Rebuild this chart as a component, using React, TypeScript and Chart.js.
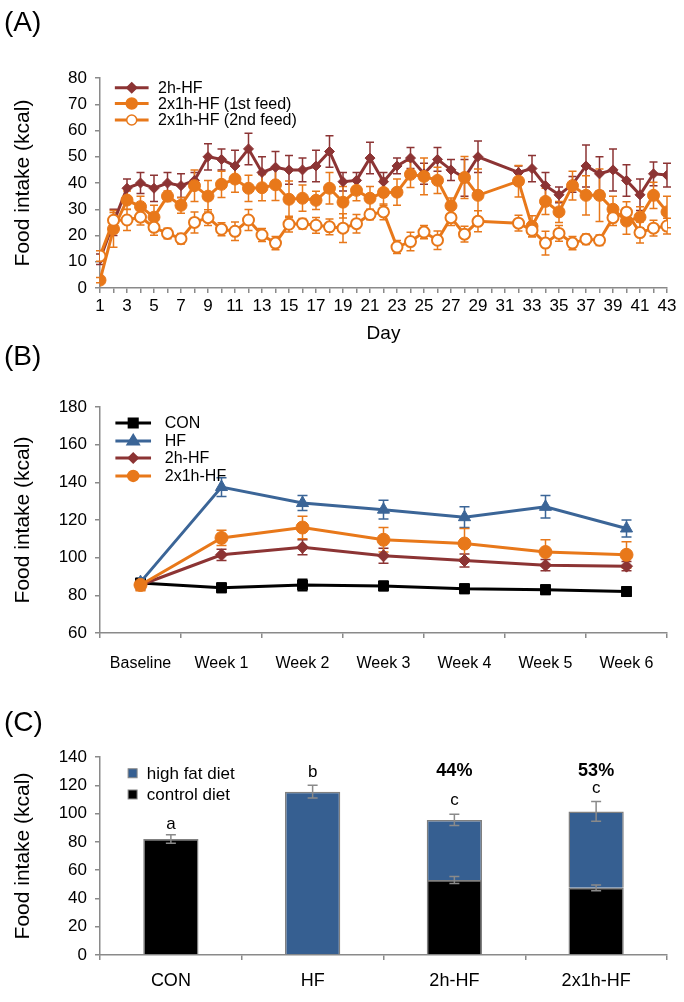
import React, { useEffect, useRef } from "react";
import { Chart, registerables } from "chart.js";

Chart.register(...registerables);

const FONT = "'Liberation Sans', Arial, Helvetica, sans-serif";
const AXIS_GREY = "#8a8a8a";
const DARK_RED = "#8c3434";
const ORANGE = "#e8781a";
const BLUE = "#3b6597";
const BAR_BLUE = "#365f91";

// ---------- Panel A data ----------
const DAYS = [1, 2, 3, 4, 5, 6, 7, 8, 9, 10, 11, 12, 13, 14, 15, 16, 17, 18, 19, 20, 21, 22, 23, 24, 25, 26, 27, 28, 29, 32, 33, 34, 35, 36, 37, 38, 39, 40, 41, 42, 43];
const HF_2H = [11, 25, 38, 40, 38, 40, 39, 41, 50, 49, 46.5, 53, 44, 46, 45, 45, 46.5, 52, 40.5, 41, 49.5, 40.5, 46.5, 49.5, 43.5, 49, 45, 42, 50, 44, 45.5, 39, 35.5, 39.5, 46.5, 43.5, 45, 41, 35.5, 43.5, 43];
const HF_2H_ERR = [2, 5, 3.5, 4, 5, 4, 4.5, 3, 5, 4, 6, 6, 6, 6, 5.5, 4.5, 6, 6, 3.5, 3, 6, 3.5, 3, 4, 4, 4.5, 4, 7, 6, 2.5, 5, 5, 3, 3, 8, 6.5, 8, 6, 6, 4.5, 4.5];
const FEED1 = [3, 22.5, 33.5, 31, 27, 35, 31.5, 39, 35, 39.5, 41.5, 38, 38.2, 39.3, 33.8, 34.2, 33.4, 38, 32.7, 37.2, 34.2, 36.4, 36.5, 43.3, 42.5, 41, 31.3, 42.1, 35.3, 40.7, 23.5, 33, 29, 39, 35.3, 35.3, 30, 25.5, 27, 35.3, 29];
const FEED1_ERR = [1, 7, 3.5, 4, 4.5, 2, 3, 6, 6, 5, 5, 5, 5, 6, 7, 5, 3.5, 6, 6, 4, 4.5, 5, 5, 5, 7, 5, 3, 8, 10, 6, 4, 5, 4, 5.5, 7.5, 10, 5, 5, 4, 5, 6];
const FEED2 = [12.2, 25.8, 25.9, 27, 23.1, 20.8, 18.8, 25, 26.8, 22.4, 21.6, 25.9, 20.2, 17.1, 24.3, 24.5, 23.9, 23.3, 22.8, 24.5, 28, 29, 15.6, 17.7, 21.3, 18.2, 26.8, 20.5, 25.4, 24.7, 22, 17.1, 20.8, 17.1, 18.6, 18.2, 26.8, 28.9, 21.1, 22.8, 23.6];
const FEED2_ERR = [2, 3, 4, 3, 3, 2, 2, 4, 3, 2.5, 3.5, 4, 2.5, 2.5, 3, 2, 3, 3, 5.5, 3.5, 2, 3, 2.5, 3.5, 2.5, 3.5, 3, 3, 4, 3, 2.5, 4.5, 3, 2.5, 2, 2, 3, 4, 4, 3, 3];

// ---------- Panel B data ----------
const WEEKS = ["Baseline", "Week 1", "Week 2", "Week 3", "Week 4", "Week 5", "Week 6"];
const B_CON = [86.5, 84, 85.5, 85, 83.5, 83, 82];
const B_CON_ERR = [2.5, 2.5, 3, 2.5, 2.5, 2.5, 2.5];
const B_HF = [87, 137.5, 129, 125.5, 121.5, 127, 115.5];
const B_HF_ERR = [2, 5, 4, 5, 5.5, 6, 4.5];
const B_2H = [85.5, 101.5, 105.5, 101, 98.5, 96, 95.5];
const B_2H_ERR = [2.5, 3, 4, 4, 3.5, 3, 2.5];
const B_2X1H = [85.5, 110.5, 116, 109.5, 107.5, 103, 101.5];
const B_2X1H_ERR = [3, 4, 6, 6.5, 8, 6.5, 7];

// ---------- Panel C data ----------
const GROUPS = ["CON", "HF", "2h-HF", "2x1h-HF"];
const C_CONTROL = [82, null, 53, 47.5];
const C_CONTROL_ERR = [3, null, 2.5, 2];
const C_HIGHFAT = [null, 115.5, 42.5, 54];
const C_HIGHFAT_ERR = [null, 4.5, 4, 7];
const C_LETTERS = ["a", "b", "c", "c"];
const C_LETTER_Y = [92.4, 129.3, 109.5, 118.1];
const C_PERCENT = ["", "", "44%", "53%"];
const C_PERCENT_Y = 130.3;

function drawMarker(ctx: CanvasRenderingContext2D, style: string, x: number, y: number, r: number, fill: string, stroke: string, lw: number) {
  ctx.beginPath();
  if (style === "circle") {
    ctx.arc(x, y, r, 0, Math.PI * 2);
  } else if (style === "rectRot") {
    ctx.moveTo(x, y - r);
    ctx.lineTo(x + r, y);
    ctx.lineTo(x, y + r);
    ctx.lineTo(x - r, y);
    ctx.closePath();
  } else if (style === "rect") {
    const s = r * 0.8;
    ctx.rect(x - s, y - s, 2 * s, 2 * s);
  } else if (style === "triangle") {
    ctx.moveTo(x, y - r);
    ctx.lineTo(x + r * 0.95, y + r * 0.6);
    ctx.lineTo(x - r * 0.95, y + r * 0.6);
    ctx.closePath();
  }
  ctx.fillStyle = fill;
  ctx.fill();
  ctx.strokeStyle = stroke;
  ctx.lineWidth = lw;
  ctx.stroke();
}

function drawErrors(chart: any) {
  const ctx = chart.ctx;
  const ys = chart.scales.y;
  chart.data.datasets.forEach((ds: any, i: number) => {
    const errs = ds.errors;
    if (!errs) return;
    const meta = chart.getDatasetMeta(i);
    ctx.save();
    ctx.strokeStyle = ds.errorColor;
    ctx.lineWidth = ds.errorWidth ?? 1.5;
    const cap = ds.errorCap ?? 4;
    meta.data.forEach((el: any, j: number) => {
      const e = errs[j];
      if (e == null) return;
      const x = el.x;
      const y = el.y;
      const d = Math.abs(ys.getPixelForValue(e) - ys.getPixelForValue(0));
      ctx.beginPath();
      ctx.moveTo(x, y - d);
      ctx.lineTo(x, y + d);
      ctx.moveTo(x - cap, y - d);
      ctx.lineTo(x + cap, y - d);
      ctx.moveTo(x - cap, y + d);
      ctx.lineTo(x + cap, y + d);
      ctx.stroke();
    });
    ctx.restore();
  });
}

const errorBars = {
  id: "errorBars",
  beforeDatasetsDraw(chart: any, _a: any, opts: any) {
    if (opts.layer !== "after") drawErrors(chart);
  },
  afterDatasetsDraw(chart: any, _a: any, opts: any) {
    if (opts.layer === "after") drawErrors(chart);
  },
};

const customLegend = {
  id: "customLegend",
  afterDraw(chart: any, _a: any, opts: any) {
    if (!opts || !opts.items) return;
    const ctx = chart.ctx;
    const xs = chart.scales.x;
    const ys = chart.scales.y;
    ctx.save();
    ctx.font = `${opts.fontSize}px ${FONT}`;
    ctx.textBaseline = "middle";
    ctx.textAlign = "left";
    opts.items.forEach((it: any, i: number) => {
      const y = ys.getPixelForValue(opts.rows[i]);
      if (it.square) {
        const cx = xs.getPixelForValue(opts.markerAt);
        const s = opts.squareSize;
        ctx.fillStyle = it.color;
        ctx.fillRect(cx - s / 2, y - s / 2, s, s);
        ctx.strokeStyle = "#888";
        ctx.lineWidth = 1;
        ctx.strokeRect(cx - s / 2, y - s / 2, s, s);
      } else {
        const x0 = xs.getPixelForValue(opts.lineFrom);
        const x1 = xs.getPixelForValue(opts.lineTo);
        ctx.strokeStyle = it.color;
        ctx.lineWidth = 3;
        ctx.beginPath();
        ctx.moveTo(x0, y);
        ctx.lineTo(x1, y);
        ctx.stroke();
        drawMarker(ctx, it.marker, (x0 + x1) / 2, y, it.radius, it.fill, it.color, 1.5);
      }
      ctx.fillStyle = "#000";
      ctx.fillText(it.label, xs.getPixelForValue(opts.textAt), y + 1);
    });
    ctx.restore();
  },
};

const barLabels = {
  id: "barLabels",
  afterDatasetsDraw(chart: any, _a: any, opts: any) {
    if (!opts || !opts.letters) return;
    const ctx = chart.ctx;
    const xs = chart.scales.x;
    const ys = chart.scales.y;
    ctx.save();
    ctx.textAlign = "center";
    ctx.textBaseline = "middle";
    ctx.fillStyle = "#000";
    opts.letters.forEach((t: string, i: number) => {
      const x = xs.getPixelForValue(i);
      ctx.font = `17px ${FONT}`;
      ctx.fillText(t, x, ys.getPixelForValue(opts.letterY[i]));
      if (opts.percents[i]) {
        ctx.font = `bold 18px ${FONT}`;
        ctx.fillText(opts.percents[i], x, ys.getPixelForValue(opts.percentY));
      }
    });
    ctx.restore();
  },
};

function axisBase(extra: any) {
  return {
    grid: { drawOnChartArea: false, tickLength: 5, color: AXIS_GREY, lineWidth: 1.5 },
    border: { color: AXIS_GREY, width: 1.5 },
    ...extra,
  };
}

const yTitle = {
  display: true,
  text: "Food intake (kcal)",
  color: "#000",
  font: { family: FONT, size: 21 },
  padding: { top: 11, bottom: 0 },
};

function makeA(canvas: HTMLCanvasElement) {
  const pts = (arr: number[]) => DAYS.map((d, i) => ({ x: d, y: arr[i] }));
  return new Chart(canvas, {
    type: "line",
    data: {
      datasets: [
        {
          label: "2h-HF",
          data: pts(HF_2H),
          borderColor: DARK_RED,
          backgroundColor: DARK_RED,
          pointStyle: "rectRot",
          pointRadius: 5,
          pointBorderWidth: 1,
          borderWidth: 3,
          order: 3,
          errors: HF_2H_ERR,
          errorColor: DARK_RED,
          errorCap: 4,
        } as any,
        {
          label: "2x1h-HF (1st feed)",
          data: pts(FEED1),
          borderColor: ORANGE,
          backgroundColor: ORANGE,
          pointStyle: "circle",
          pointRadius: 6,
          pointBorderWidth: 1,
          borderWidth: 3,
          order: 2,
          errors: FEED1_ERR,
          errorColor: ORANGE,
          errorCap: 4,
        },
        {
          label: "2x1h-HF (2nd feed)",
          data: pts(FEED2),
          borderColor: ORANGE,
          backgroundColor: "#ffffff",
          pointStyle: "circle",
          pointRadius: 5.5,
          pointBorderWidth: 2,
          borderWidth: 3,
          order: 1,
          errors: FEED2_ERR,
          errorColor: ORANGE,
          errorCap: 4,
        },
      ],
    },
    options: {
      animation: false,
      responsive: false,
      devicePixelRatio: 1,
      layout: { padding: { top: 78, right: 17, left: 0, bottom: 0 } },
      plugins: {
        legend: { display: false },
        tooltip: { enabled: false },
        errorBars: { layer: "before" },
        customLegend: {
          fontSize: 16,
          lineFrom: 2.1,
          lineTo: 4.6,
          textAt: 5.3,
          rows: [76.3, 70.3, 64],
          items: [
            { label: "2h-HF", color: DARK_RED, marker: "rectRot", radius: 5, fill: DARK_RED },
            { label: "2x1h-HF (1st feed)", color: ORANGE, marker: "circle", radius: 5.5, fill: ORANGE },
            { label: "2x1h-HF (2nd feed)", color: ORANGE, marker: "circle", radius: 5, fill: "#ffffff" },
          ],
        },
      } as any,
      scales: {
        x: axisBase({
          type: "linear",
          min: 1,
          max: 43,
          afterFit: (s: any) => {
            s.height = 62;
          },
          ticks: {
            stepSize: 1,
            autoSkip: false,
            maxRotation: 0,
            color: "#000",
            padding: 3,
            font: { family: FONT, size: 17 },
            callback: (v: any) => (Number(v) % 2 === 1 ? String(v) : ""),
          },
          title: { display: true, text: "Day", color: "#000", font: { family: FONT, size: 19 }, padding: { top: 0, bottom: 5 } },
        }),
        y: axisBase({
          min: 0,
          max: 80,
          afterFit: (s: any) => {
            s.width = 100;
          },
          ticks: { stepSize: 10, color: "#000", padding: 8, font: { family: FONT, size: 17 } },
          title: yTitle,
        }),
      } as any,
    },
    plugins: [errorBars, customLegend],
  });
}

function makeB(canvas: HTMLCanvasElement) {
  const ds = (label: string, data: number[], errs: number[], color: string, style: string, r: number, order: number) => ({
    label,
    data,
    borderColor: color,
    backgroundColor: color,
    pointStyle: style,
    pointRadius: r,
    pointBorderWidth: 1,
    borderWidth: 3,
    order,
    errors: errs,
    errorColor: color,
    errorCap: 5,
  });
  return new Chart(canvas, {
    type: "line",
    data: {
      labels: WEEKS,
      datasets: [
        ds("CON", B_CON, B_CON_ERR, "#000000", "rect", 7, 4),
        ds("HF", B_HF, B_HF_ERR, BLUE, "triangle", 7, 3),
        ds("2h-HF", B_2H, B_2H_ERR, DARK_RED, "rectRot", 6, 2),
        ds("2x1h-HF", B_2X1H, B_2X1H_ERR, ORANGE, "circle", 6.5, 1),
      ] as any,
    },
    options: {
      animation: false,
      responsive: false,
      devicePixelRatio: 1,
      layout: { padding: { top: 57, right: 17, left: 0, bottom: 0 } },
      plugins: {
        legend: { display: false },
        tooltip: { enabled: false },
        errorBars: { layer: "before" },
        customLegend: {
          fontSize: 16,
          lineFrom: -0.31,
          lineTo: 0.13,
          textAt: 0.3,
          rows: [171.5, 162, 152.9, 143.4],
          items: [
            { label: "CON", color: "#000000", marker: "rect", radius: 6, fill: "#000000" },
            { label: "HF", color: BLUE, marker: "triangle", radius: 6.5, fill: BLUE },
            { label: "2h-HF", color: DARK_RED, marker: "rectRot", radius: 5, fill: DARK_RED },
            { label: "2x1h-HF", color: ORANGE, marker: "circle", radius: 5.5, fill: ORANGE },
          ],
        },
      } as any,
      scales: {
        x: {
          type: "category",
          offset: true,
          afterFit: (s: any) => {
            s.height = 52;
          },
          grid: { drawOnChartArea: false, tickLength: 5, color: AXIS_GREY, lineWidth: 1.5, offset: true },
          border: { color: AXIS_GREY, width: 1.5 },
          ticks: { color: "#000", padding: 16, maxRotation: 0, autoSkip: false, font: { family: FONT, size: 16 } },
        },
        y: axisBase({
          min: 60,
          max: 180,
          afterFit: (s: any) => {
            s.width = 100;
          },
          ticks: { stepSize: 20, color: "#000", padding: 8, font: { family: FONT, size: 17 } },
          title: yTitle,
        }),
      } as any,
    },
    plugins: [errorBars, customLegend],
  });
}

function makeC(canvas: HTMLCanvasElement) {
  return new Chart(canvas, {
    type: "bar",
    data: {
      labels: GROUPS,
      datasets: [
        {
          label: "control diet",
          data: C_CONTROL,
          backgroundColor: "#000000",
          borderColor: "#808080",
          borderWidth: 1.5,
          barPercentage: 0.39,
          categoryPercentage: 1,
          errors: C_CONTROL_ERR,
          errorColor: "#8a8a8a",
          errorCap: 5,
        } as any,
        {
          label: "high fat diet",
          data: C_HIGHFAT,
          backgroundColor: BAR_BLUE,
          borderColor: "#808080",
          borderWidth: 1.5,
          barPercentage: 0.39,
          categoryPercentage: 1,
          errors: C_HIGHFAT_ERR,
          errorColor: "#8a8a8a",
          errorCap: 5,
        },
      ],
    },
    options: {
      animation: false,
      responsive: false,
      devicePixelRatio: 1,
      layout: { padding: { top: 72, right: 17, left: 0, bottom: 0 } },
      plugins: {
        legend: { display: false },
        tooltip: { enabled: false },
        errorBars: { layer: "after" },
        customLegend: {
          fontSize: 17,
          markerAt: -0.27,
          squareSize: 9,
          textAt: -0.17,
          rows: [128.5, 113.5],
          items: [
            { label: "high fat diet", color: BAR_BLUE, square: true },
            { label: "control diet", color: "#000000", square: true },
          ],
        },
        barLabels: {
          letters: C_LETTERS,
          letterY: C_LETTER_Y,
          percents: C_PERCENT,
          percentY: C_PERCENT_Y,
        },
      } as any,
      scales: {
        x: {
          type: "category",
          stacked: true,
          afterFit: (s: any) => {
            s.height = 47;
          },
          grid: { drawOnChartArea: false, tickLength: 5, color: AXIS_GREY, lineWidth: 1.5, offset: true },
          border: { color: AXIS_GREY, width: 1.5 },
          ticks: { color: "#000", padding: 10, maxRotation: 0, autoSkip: false, font: { family: FONT, size: 18 } },
        },
        y: axisBase({
          stacked: true,
          min: 0,
          max: 140,
          afterFit: (s: any) => {
            s.width = 100;
          },
          ticks: { stepSize: 20, color: "#000", padding: 8, font: { family: FONT, size: 17 } },
          title: yTitle,
        }),
      } as any,
    },
    plugins: [errorBars, customLegend, barLabels],
  });
}

function ChartCanvas({ top, height, make }: { top: number; height: number; make: (c: HTMLCanvasElement) => Chart }) {
  const ref = useRef<HTMLCanvasElement | null>(null);
  useEffect(() => {
    if (!ref.current) return;
    const chart = make(ref.current);
    return () => chart.destroy();
  }, [make]);
  return (
    <canvas
      ref={ref}
      width={684}
      height={height}
      style={{ position: "absolute", left: 0, top, width: 684, height, display: "block" }}
    />
  );
}

const panelLabel = (text: string, centerY: number) => (
  <div
    style={{
      position: "absolute",
      left: 4,
      top: centerY - 16,
      height: 32,
      lineHeight: "32px",
      fontSize: 28,
      fontFamily: FONT,
      color: "#000",
      pointerEvents: "none",
      zIndex: 2,
    }}
  >
    {text}
  </div>
);

export default function App() {
  return (
    <div style={{ position: "absolute", left: 0, top: 0, width: 684, height: 1002, background: "#fff", overflow: "hidden" }}>
      <ChartCanvas top={0} height={350} make={makeA} />
      <ChartCanvas top={350} height={335} make={makeB} />
      <ChartCanvas top={685} height={317} make={makeC} />
      {panelLabel("(A)", 22)}
      {panelLabel("(B)", 356)}
      {panelLabel("(C)", 722)}
    </div>
  );
}
